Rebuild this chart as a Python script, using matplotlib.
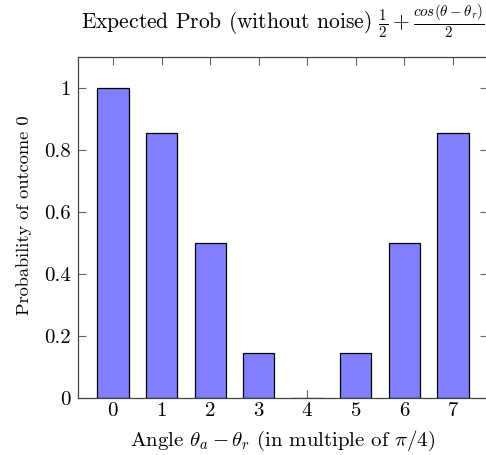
import matplotlib

matplotlib.use("Agg")
import matplotlib.pyplot as plt

plt.rcParams["font.family"] = ["cmr10", "DejaVu Serif"]
plt.rcParams["mathtext.fontset"] = "cm"
plt.rcParams["axes.formatter.use_mathtext"] = True

# data
angles = [0, 1, 2, 3, 4, 5, 6, 7]
prob_zero = [1.0, 0.854, 0.5, 0.146, 0.0, 0.146, 0.5, 0.854]
y_ticks = [0, 0.2, 0.4, 0.6, 0.8, 1]
y_tick_labels = ["0", "0.2", "0.4", "0.6", "0.8", "1"]

fig = plt.figure(figsize=(4.86, 4.55), dpi=100)
ax = fig.add_axes([78 / 486, 57 / 455, 410 / 486, 341 / 455])

ax.bar(
    angles,
    prob_zero,
    width=0.64,
    color="#8080ff",
    edgecolor="black",
    linewidth=0.9,
    zorder=2,
)

ax.set_xlim(-0.72, 7.72)
ax.set_ylim(0, 1.1)
ax.set_xticks(angles)
ax.set_yticks(y_ticks)
ax.set_yticklabels(y_tick_labels)

for spine in ["bottom", "top", "left", "right"]:
    ax.spines[spine].set_color("#444444")
    ax.spines[spine].set_linewidth(0.9)
ax.tick_params(
    direction="in",
    top=True,
    right=True,
    length=6,
    width=0.8,
    color="#666666",
    labelsize=15,
)
ax.tick_params(axis="x", pad=3)
ax.tick_params(axis="y", pad=5)

ax.set_xlabel(r"Angle $\theta_a - \theta_r$ (in multiple of $\pi/4$)", fontsize=15, labelpad=6)
ax.set_ylabel("Probability of outcome 0", fontsize=13.2)
ax.yaxis.set_label_coords(-0.113, 0.537)
ax.set_title(
    r"Expected Prob (without noise) $\frac{1}{2} + \frac{cos(\theta - \theta_r)}{2}$",
    fontsize=15.5,
    pad=20,
)

fig.savefig("out.png", dpi=100)
